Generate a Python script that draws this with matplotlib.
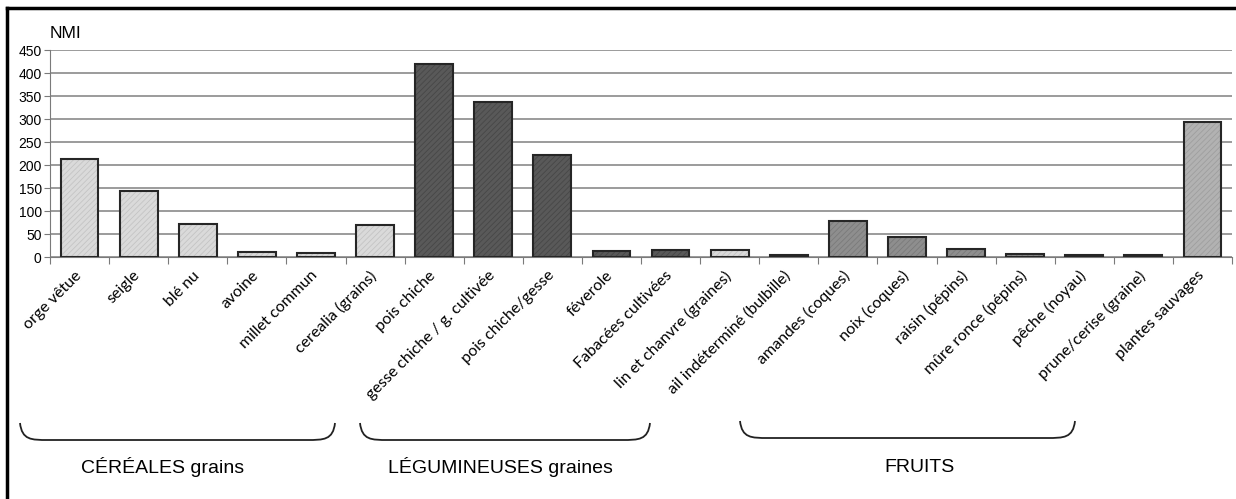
import numpy as np
import matplotlib.pyplot as plt
from matplotlib.path import Path
from matplotlib.patches import PathPatch
from matplotlib.lines import Line2D
import matplotlib.transforms as mtransforms

# donnees
categories = ["orge vêtue", "seigle", "blé nu", "avoine", "millet commun",
              "cerealia (grains)", "pois chiche", "gesse chiche / g. cultivée",
              "pois chiche/gesse", "féverole", "Fabacées cultivées",
              "lin et chanvre (graines)", "ail indéterminé (bulbille)",
              "amandes (coques)", "noix (coques)", "raisin (pépins)",
              "mûre ronce (pépins)", "pêche (noyau)", "prune/cerise (graine)",
              "plantes sauvages"]
nmi = [214, 145, 73, 12, 9, 70, 419, 337, 222, 14, 16, 16, 4,
       78, 45, 19, 8, 5, 5, 293]
types = ["cer"] * 6 + ["leg"] * 5 + ["cer", "leg"] + ["fru"] * 6 + ["sau"]
groupes = ["CÉRÉALES grains", "LÉGUMINEUSES graines", "FRUITS"]

fill = {"cer": "#dadada", "leg": "#595959", "fru": "#8e8e8e", "sau": "#b2b2b2"}
hatchc = {"cer": "#c4c4c4", "leg": "#474747", "fru": "#7a7a7a", "sau": "#9e9e9e"}

W, H = 1236, 499
fig = plt.figure(figsize=(W / 100, H / 100), dpi=100)
ax = fig.add_axes([50 / W, 1 - 257.3 / H, (1232 - 50) / W, (257.3 - 50) / H])

x = np.arange(len(categories))
plt.rcParams["hatch.linewidth"] = 0.6
for i, v in enumerate(nmi):
    t = types[i]
    ax.bar(x[i], v, width=0.64, color=fill[t], edgecolor=hatchc[t],
           hatch="//////", linewidth=0, zorder=3)
ax.bar(x, nmi, width=0.64, facecolor="none", edgecolor="#262626",
       linewidth=1.5, zorder=4)

ax.set_ylim(0, 450)
ax.set_xlim(-0.5, len(categories) - 0.5)
ax.set_yticks(np.arange(0, 451, 50))
ax.yaxis.grid(True, color="#808080", linewidth=1.1, zorder=0)
ax.set_axisbelow(True)
for s in ["top", "right"]:
    ax.spines[s].set_visible(False)
ax.spines["left"].set_color("#7a7a7a")
ax.spines["bottom"].set_color("#7a7a7a")
ax.tick_params(axis="y", length=4, color="#7a7a7a", labelsize=10, pad=2)
for lab in ax.get_yticklabels():
    lab.set_fontfamily("Liberation Sans")

# ticks entre les categories, etiquettes au centre
ax.set_xticks(np.arange(-0.5, len(categories), 1))
ax.set_xticklabels([])
ax.tick_params(axis="x", which="major", length=5, color="#7a7a7a")
ax.set_xticks(x, minor=True)
ax.set_xticklabels(categories, minor=True, rotation=45, ha="right",
                   rotation_mode="anchor", fontsize=11.5, fontfamily="Lato")
ax.tick_params(axis="x", which="minor", length=0, pad=8)
off = mtransforms.ScaledTranslation(-4 / 72, 0, fig.dpi_scale_trans)
for lab in ax.get_xticklabels(minor=True):
    lab.set_transform(lab.get_transform() + off)

fig.text(50 / W, 1 - 33 / H, "NMI", fontsize=12.5, fontfamily="Liberation Sans",
         va="center", ha="left")

# accolades sous les groupes
def accolade(x0, x1, ytop, ybot, r=28):
    pts = [(x0, ytop), (x0 + 2, ybot), (x0 + r * 0.4, ybot), (x0 + r, ybot),
           (x1 - r, ybot),
           (x1 - r * 0.4, ybot), (x1 - 2, ybot), (x1, ytop)]
    pts = [(px / W, 1 - py / H) for px, py in pts]
    codes = [Path.MOVETO, Path.CURVE4, Path.CURVE4, Path.CURVE4, Path.LINETO,
             Path.CURVE4, Path.CURVE4, Path.CURVE4]
    fig.patches.append(PathPatch(Path(pts, codes), transform=fig.transFigure,
                                 facecolor="none", edgecolor="#222222",
                                 linewidth=1.3))

accolade(20, 335, 423, 440)
accolade(360, 650, 423, 440)
accolade(740, 1075, 421, 438)
for nom, cx in zip(groupes, [163, 500, 920]):
    fig.text(cx / W, 1 - 467 / H, nom, fontsize=14, fontfamily="Liberation Sans",
             ha="center", va="center")

# cadre noir en haut et a gauche
fig.add_artist(Line2D([7 / W, 1], [1 - 8 / H, 1 - 8 / H], color="black",
                      linewidth=2.5, transform=fig.transFigure))
fig.add_artist(Line2D([7 / W, 7 / W], [0, 1 - 8 / H], color="black",
                      linewidth=2.5, transform=fig.transFigure))

fig.savefig("out.png", dpi=100)
